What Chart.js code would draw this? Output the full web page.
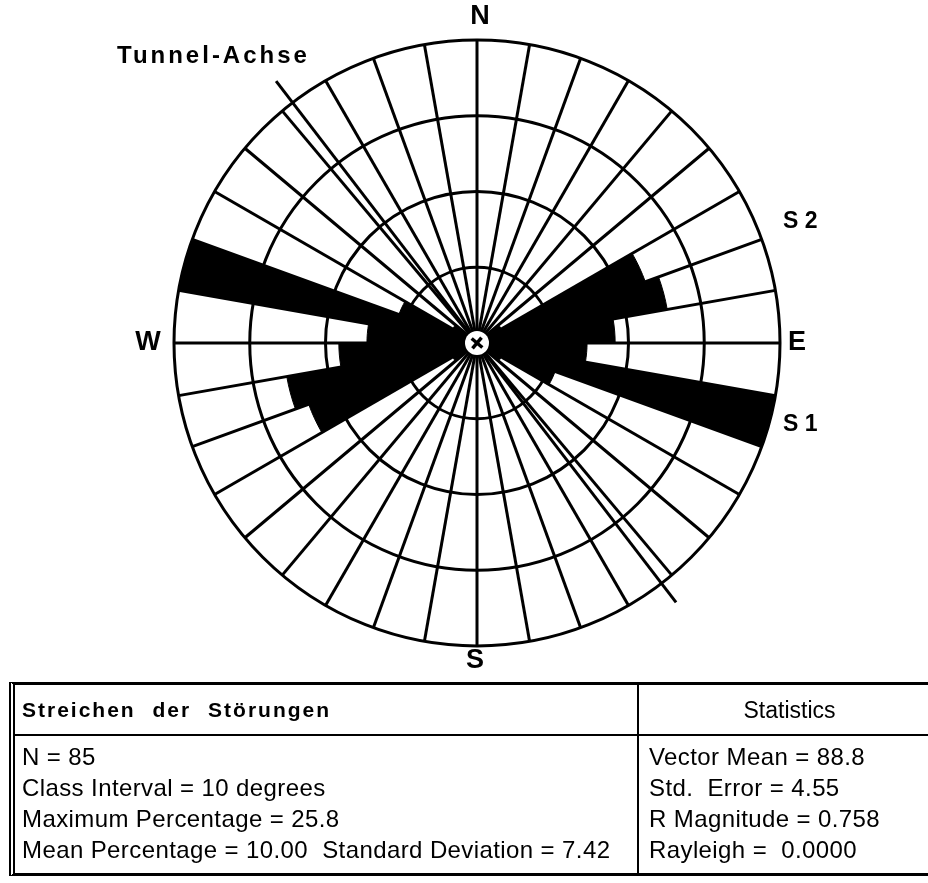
<!DOCTYPE html>
<html>
<head>
<meta charset="utf-8">
<script src="https://cdn.jsdelivr.net/npm/chart.js@4.4.1/dist/chart.umd.min.js"></script>
<style>
html,body{margin:0;padding:0;background:#fff;overflow:hidden;width:928px;height:883px;}
#wrap{position:relative;width:928px;height:883px;overflow:hidden;}
#c{position:absolute;left:0;top:0;}
.box{position:absolute;left:9px;top:682px;width:940px;height:188px;border-top:3px solid #000;border-bottom:3px solid #000;border-left:6px double #000;font-family:"Liberation Sans",Arial,sans-serif;color:#000;}
.hdr{position:absolute;left:0;top:0;right:0;height:49px;border-bottom:2px solid #000;}
.vdiv{position:absolute;left:622px;top:0;bottom:0;border-left:2px solid #000;}
.htitle{position:absolute;left:7px;top:0;height:49px;line-height:50px;font-weight:bold;font-size:21px;letter-spacing:2px;word-spacing:9px;white-space:nowrap;}
.hstat{position:absolute;left:624px;right:15px;top:0;height:49px;line-height:50px;font-size:23px;text-align:center;white-space:nowrap;}
.row{position:absolute;font-size:24px;letter-spacing:0.4px;line-height:31px;height:31px;white-space:nowrap;}
</style>
</head>
<body>
<div id="wrap">
<canvas id="c" width="928" height="686"></canvas>
<div class="box" id="box">
  <div class="hdr"></div>
  <div class="vdiv"></div>
  <div class="htitle" id="htitle"></div>
  <div class="hstat" id="hstat"></div>
</div>
</div>
<script>
// ---- data ----
const CATEGORIES = ['0°','10°','20°','30°','40°','50°','60°','70°','80°','90°','100°','110°','120°','130°','140°','150°','160°','170°',
                    '180°','190°','200°','210°','220°','230°','240°','250°','260°','270°','280°','290°','300°','310°','320°','330°','340°','350°'];
// percentage of strikes per 10° class (axial data: 180°-360° repeats 0°-180°)
const PERCENT = [0, 0, 0, 0, 1.2, 2.4, 15.3, 16.5, 11.8, 9.4, 25.9, 7.1, 2.4, 1.2, 0, 0, 0, 0,
                 0, 0, 0, 0, 1.2, 2.4, 15.3, 16.5, 11.8, 9.4, 25.9, 7.1, 2.4, 1.2, 0, 0, 0, 0];
const RING_TICKS = [0, 6.47, 12.94, 19.41, 25.88];
const COMPASS = ['N', 'E', 'S', 'W'];
const SET_LABELS = ['S 2', 'S 1'];
const TUNNEL_LABEL = 'Tunnel-Achse';
const TUNNEL_BEARING = 142.5;
const TABLE_TITLE = 'Streichen der Störungen';
const TABLE_STATS_TITLE = 'Statistics';
const TABLE_LEFT = ['N = 85', 'Class Interval = 10 degrees', 'Maximum Percentage = 25.8', 'Mean Percentage = 10.00\u00a0\u00a0Standard Deviation = 7.42'];
const TABLE_RIGHT = ['Vector Mean = 88.8', 'Std.\u00a0 Error = 4.55', 'R Magnitude = 0.758', 'Rayleigh = \u00a00.0000'];

// ---- table ----
document.getElementById('htitle').textContent = TABLE_TITLE;
document.getElementById('hstat').textContent = TABLE_STATS_TITLE;
const box = document.getElementById('box');
TABLE_LEFT.forEach((t, i) => {
  const d = document.createElement('div');
  d.className = 'row'; d.style.left = '7px'; d.style.top = (56 + i * 31) + 'px';
  d.textContent = t; box.appendChild(d);
});
TABLE_RIGHT.forEach((t, i) => {
  const d = document.createElement('div');
  d.className = 'row'; d.style.left = '634px'; d.style.top = (56 + i * 31) + 'px';
  d.textContent = t; box.appendChild(d);
});

// ---- overlay plugin ----
const overlay = {
  id: 'overlay',
  afterDatasetsDraw(chart) {
    const s = chart.scales.r;
    const cx = s.xCenter, cy = s.yCenter;
    const ctx = chart.ctx;
    ctx.save();
    // tunnel axis
    const b = TUNNEL_BEARING * Math.PI / 180;
    const dx = Math.sin(b), dy = -Math.cos(b);
    ctx.strokeStyle = '#000'; ctx.lineWidth = 3; ctx.lineCap = 'butt';
    ctx.beginPath();
    ctx.moveTo(cx - 330 * dx, cy - 330 * dy);
    ctx.lineTo(cx + 327 * dx, cy + 327 * dy);
    ctx.stroke();
    // centre symbol
    ctx.fillStyle = '#fff';
    ctx.beginPath(); ctx.arc(cx, cy, 12, 0, Math.PI * 2); ctx.fill();
    ctx.translate(cx, cy); ctx.rotate(40 * Math.PI / 180);
    ctx.strokeStyle = '#000'; ctx.lineWidth = 3.5;
    ctx.beginPath();
    ctx.moveTo(-7, 0); ctx.lineTo(7, 0);
    ctx.moveTo(0, -7); ctx.lineTo(0, 7);
    ctx.stroke();
    ctx.setTransform(1, 0, 0, 1, 0, 0);
    // compass letters
    ctx.fillStyle = '#000';
    ctx.textAlign = 'center'; ctx.textBaseline = 'middle';
    ctx.font = 'bold 27px "Liberation Sans", Arial, sans-serif';
    ctx.fillText(COMPASS[0], cx + 3, cy - 326);
    ctx.fillText(COMPASS[1], cx + 320, cy);
    ctx.fillText(COMPASS[2], cx - 2, cy + 318);
    ctx.fillText(COMPASS[3], cx - 329, cy);
    // joint sets
    ctx.font = 'bold 23px "Liberation Sans", Arial, sans-serif';
    ctx.textAlign = 'left';
    ctx.fillText(SET_LABELS[0], cx + 306, cy - 121);
    ctx.fillText(SET_LABELS[1], cx + 306, cy + 82);
    // tunnel label
    ctx.font = 'bold 24px "Liberation Sans", Arial, sans-serif';
    if ('letterSpacing' in ctx) ctx.letterSpacing = '3px';
    ctx.fillText(TUNNEL_LABEL, 117, 56);
    ctx.restore();
  }
};

new Chart(document.getElementById('c'), {
  type: 'polarArea',
  data: {
    labels: CATEGORIES,
    datasets: [{
      data: PERCENT,
      backgroundColor: '#000',
      borderColor: '#000',
      borderWidth: 1
    }]
  },
  options: {
    responsive: false,
    devicePixelRatio: 1,
    animation: false,
    layout: { padding: { left: 174, right: 148, top: 40, bottom: 40 } },
    plugins: { legend: { display: false }, tooltip: { enabled: false } },
    scales: {
      r: {
        min: 0,
        max: RING_TICKS[RING_TICKS.length - 1],
        startAngle: 0,
        afterBuildTicks(scale) { scale.ticks = RING_TICKS.map(v => ({ value: v })); },
        ticks: { display: false },
        pointLabels: { display: false },
        grid: { circular: true, color: '#000', lineWidth: 3 },
        angleLines: { display: true, color: '#000', lineWidth: 3 }
      }
    }
  },
  plugins: [overlay]
});
</script>
</body>
</html>
